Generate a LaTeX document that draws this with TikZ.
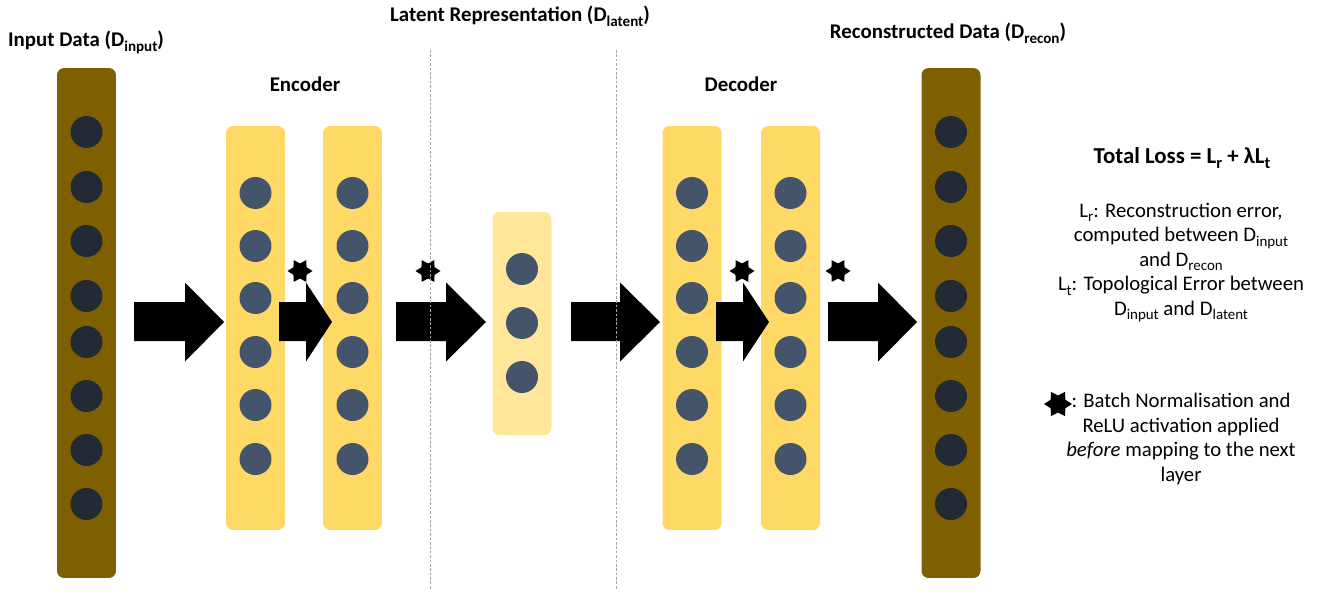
\documentclass[tikz,border=0pt]{standalone}
\usepackage{fontspec}
\setmainfont{Carlito}
\usetikzlibrary{positioning, shapes.geometric}

\definecolor{barBrown}{HTML}{7F6000}
\definecolor{barGold}{HTML}{FFD966}
\definecolor{barPale}{HTML}{FFE699}
\definecolor{unitNavy}{HTML}{222A35}
\definecolor{unitSlate}{HTML}{44546A}

% subscripts set upright, a bit smaller and lowered
\newcommand{\sub}[1]{\raisebox{-0.22em}{\scalebox{0.72}{#1}}}

\tikzset{
    layerBar/.style={rectangle, rounded corners=0.14cm, minimum width=1.18cm, inner sep=0pt},
    ioBar/.style={layerBar, fill=barBrown, minimum height=10.2cm},
    hiddenBar/.style={layerBar, fill=barGold, minimum height=8.08cm},
    latentBar/.style={layerBar, fill=barPale, minimum height=4.46cm},
    unit/.style={circle, fill=unitSlate, minimum size=0.64cm, inner sep=0pt},
    ioUnit/.style={unit, fill=unitNavy},
    bigArrow/.style={fill=black},
    bnStar/.style={star, star points=6, star point ratio=1.65, shape border rotate=30, fill=black, minimum size=0.5cm, inner sep=0pt},
    divider/.style={draw=gray!70, line width=0.4pt, dash pattern=on 1.5pt off 1pt},
    heading/.style={font=\fontsize{11.9}{14}\selectfont\bfseries, anchor=base, inner sep=0pt},
    lossTitle/.style={font=\fontsize{13}{15}\selectfont\bfseries, anchor=base, inner sep=0pt},
    % multi-line notes sit on the baseline of their last line
    note/.style={font=\fontsize{11.8}{13.9}\selectfont, align=center, anchor=base, inner sep=0pt}
}

\begin{document}
\begin{tikzpicture}[x=0.02cm, y=-0.02cm]
    \useasboundingbox (0,0) rectangle (1322,592);

    % layers
    \node[ioBar] (InBar) at (86.5,323) {};
    \node[hiddenBar] (Enc1) at (255.5,328) {};
    \node[hiddenBar] (Enc2) at (352.5,328) {};
    \node[latentBar] (Lat) at (522,323.5) {};
    \node[hiddenBar] (Dec1) at (692,328) {};
    \node[hiddenBar] (Dec2) at (790.5,328) {};
    \node[ioBar] (OutBar) at (951,323) {};

    % neurons
    \foreach \y [count=\i] in {132,187,241,296,342,396,450,504} {
        \node[ioUnit] (in\i) at (86.5,\y) {};
        \node[ioUnit] (out\i) at (951,\y) {};
    }
    \foreach \y [count=\i] in {193,246,298,352,405,459} {
        \node[unit] (enc1u\i) at (255.5,\y) {};
        \node[unit] (enc2u\i) at (352.5,\y) {};
        \node[unit] (dec1u\i) at (692,\y) {};
        \node[unit] (dec2u\i) at (790.5,\y) {};
    }
    \foreach \y [count=\i] in {269,323,377}
        \node[unit] (latu\i) at (522,\y) {};

    % block arrows between layers
    \foreach \tail/\neck/\tip in {134/185/224, 279/306/332, 396/446/486, 571/620/660, 716/743/769, 828/878/917}
        \fill[bigArrow] (\tail,302) -- (\neck,302) -- (\neck,282.5) -- (\tip,322) -- (\neck,361.5) -- (\neck,341) -- (\tail,341) -- cycle;

    % batch norm + relu marks
    \node[bnStar] (bn1) at (300,271) {};
    \node[bnStar] (bn2) at (428,271) {};
    \node[bnStar] (bn3) at (742,271) {};
    \node[bnStar] (bn4) at (838,271) {};

    % latent section borders
    \draw[divider] (430,50) -- (430,590);
    \draw[divider] (616,50) -- (616,590);

    % headings
    \node[heading] (InTitle) at (86,46.5) {Input Data (D\sub{input})};
    \node[heading] (EncTitle) at (305,91.5) {Encoder};
    \node[heading] (LatTitle) at (520,21.5) {Latent Representation (D\sub{latent})};
    \node[heading] (DecTitle) at (741,91.5) {Decoder};
    \node[heading] (OutTitle) at (948,38.5) {Reconstructed Data (D\sub{recon})};

    % loss description
    \node[lossTitle] (Loss) at (1182,163) {Total Loss = L\sub{r} + λL\sub{t}};
    \node[note] (LossTerms) at (1181,315) {L\sub{r}: Reconstruction error,\\computed between D\sub{input}\\and D\sub{recon}\\L\sub{t}: Topological Error between\\D\sub{input} and D\sub{latent}};

    % legend
    \node[bnStar, minimum size=0.56cm] (bnKey) at (1058,404) {};
    \node[note] (Legend) at (1181,481) {: Batch Normalisation and\\ReLU activation applied\\\textit{before} mapping to the next\\layer};
\end{tikzpicture}
\end{document}
